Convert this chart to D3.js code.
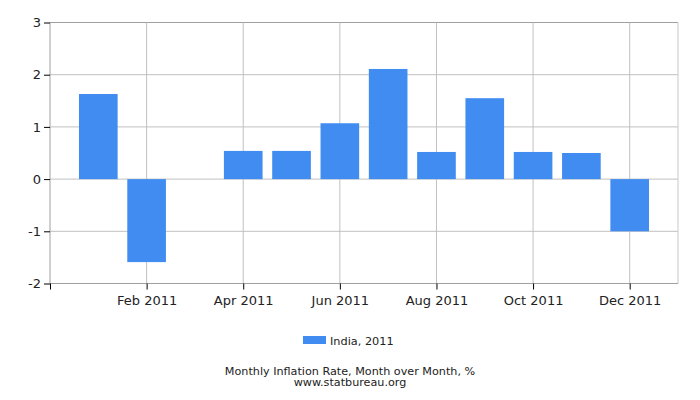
<!DOCTYPE html>
<html>
<head>
<meta charset="utf-8">
<script src="https://cdn.jsdelivr.net/npm/d3@7"></script>
<style>
  body { margin: 0; background: #fff; }
  svg { font-family: "DejaVu Sans", sans-serif; }
</style>
</head>
<body>
<svg id="chart" width="700" height="400"></svg>
<script>
// Données
const months = ["Jan 2011", "Feb 2011", "Mar 2011", "Apr 2011", "May 2011", "Jun 2011",
  "Jul 2011", "Aug 2011", "Sep 2011", "Oct 2011", "Nov 2011", "Dec 2011"];
const values = [1.63, -1.59, 0, 0.54, 0.54, 1.07, 2.11, 0.52, 1.55, 0.52, 0.50, -1.00];
const yTicks = [-2, -1, 0, 1, 2, 3];
const xTickMonths = ["Feb 2011", "Apr 2011", "Jun 2011", "Aug 2011", "Oct 2011", "Dec 2011"];
const seriesName = "India, 2011";
const title = "Monthly Inflation Rate, Month over Month, %";
const source = "www.statbureau.org";

const svg = d3.select("#chart");
const margin = { top: 22.5, right: 22, bottom: 116.5, left: 50 };
const W = 700, H = 400;
const blue = "#418CF0";

// Échelle horizontale : un emplacement par mois, un de marge avant janvier
const x = d3.scaleLinear()
  .domain([-1, 12])
  .range([margin.left, W - margin.right]);
const step = x(1) - x(0);
const barW = step * 0.8;

const y = d3.scaleLinear()
  .domain([-2, 3])
  .range([H - margin.bottom, margin.top]);

// Quadrillage horizontal
svg.append("g")
  .selectAll("line")
  .data(yTicks)
  .join("line")
  .attr("x1", margin.left).attr("x2", W - margin.right)
  .attr("y1", d => y(d)).attr("y2", d => y(d))
  .attr("stroke", d => d === 3 ? "#a0a0a0" : "#c0c0c0")
  .attr("stroke-width", 1);

// Quadrillage vertical
svg.append("g")
  .selectAll("line")
  .data(xTickMonths)
  .join("line")
  .attr("x1", d => x(months.indexOf(d))).attr("x2", d => x(months.indexOf(d)))
  .attr("y1", margin.top).attr("y2", H - margin.bottom)
  .attr("stroke", "#c0c0c0");

// Bordure droite
svg.append("line")
  .attr("x1", W - margin.right).attr("x2", W - margin.right)
  .attr("y1", margin.top).attr("y2", H - margin.bottom)
  .attr("stroke", "#c8c8c8");

// Barres
svg.append("g")
  .selectAll("rect")
  .data(values)
  .join("rect")
  .attr("x", (d, i) => x(i) - barW / 2)
  .attr("width", barW)
  .attr("y", d => y(Math.max(0, d)))
  .attr("height", d => Math.abs(y(d) - y(0)))
  .attr("fill", blue);

// Axe vertical
const yAxis = svg.append("g")
  .attr("transform", `translate(${margin.left},0)`)
  .call(d3.axisLeft(y).tickValues(yTicks).tickSize(6).tickPadding(3).tickFormat(d3.format("d")));
yAxis.select(".domain").attr("stroke", "#a0a0a0").attr("d", `M0,${margin.top}V${H - margin.bottom}`);
yAxis.selectAll(".tick text").attr("font-size", 13).attr("fill", "#222")
  .attr("font-family", "DejaVu Sans, sans-serif").text(d => d < 0 ? "-" + Math.abs(d) : d);

// Axe horizontal
const xAxis = svg.append("g")
  .attr("transform", `translate(0,${H - margin.bottom})`)
  .call(d3.axisBottom(x)
    .tickValues([-1, ...xTickMonths.map(m => months.indexOf(m))])
    .tickSize(6).tickPadding(6)
    .tickFormat(d => d < 0 ? "" : months[d]));
xAxis.select(".domain").attr("stroke", "#a0a0a0").attr("d", `M${margin.left},0H${W - margin.right}`);
xAxis.selectAll(".tick text").attr("font-size", 13).attr("fill", "#222")
  .attr("font-family", "DejaVu Sans, sans-serif");

// Légende
const legend = svg.append("g").attr("transform", "translate(303,336)");
legend.append("rect").attr("width", 23).attr("height", 8).attr("fill", blue);
legend.append("text").attr("x", 27).attr("y", 9)
  .attr("font-size", 11.3).attr("fill", "#222").text(seriesName);

// Titre et source
svg.append("text").attr("x", 350).attr("y", 374.5).attr("text-anchor", "middle")
  .attr("font-size", 11.2).attr("fill", "#222").text(title);
svg.append("text").attr("x", 350).attr("y", 385.5).attr("text-anchor", "middle")
  .attr("font-size", 11.2).attr("fill", "#222").text(source);
</script>
</body>
</html>
